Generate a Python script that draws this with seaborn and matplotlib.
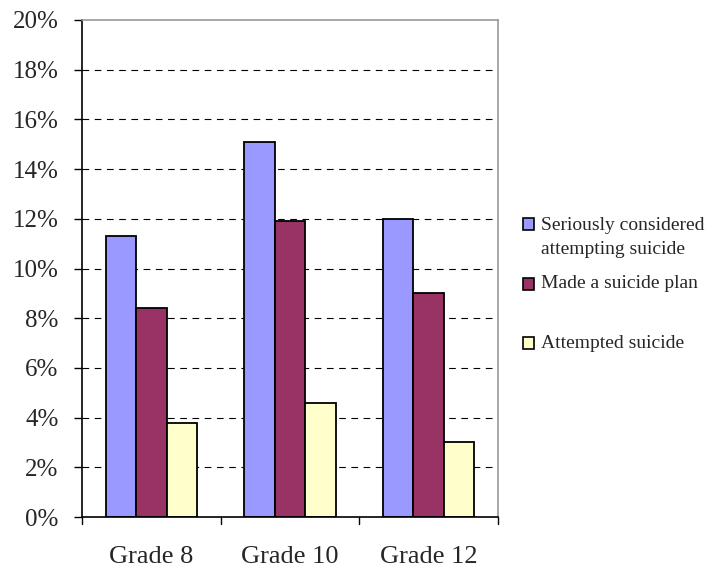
import matplotlib
matplotlib.use("Agg")
import matplotlib.pyplot as plt
from matplotlib.patches import Rectangle
import seaborn as sns
import pandas as pd

grades = ["Grade 8", "Grade 10", "Grade 12"]
series = ["Seriously considered\nattempting suicide", "Made a suicide plan", "Attempted suicide"]
considered = [11.3, 15.1, 12.0]
plan = [8.4, 11.9, 9.0]
attempted = [3.8, 4.6, 3.0]
colors = ["#9999FF", "#993366", "#FFFFCC"]
y_ticks = [0, 2, 4, 6, 8, 10, 12, 14, 16, 18, 20]

rows = []
for name, vals in zip(series, [considered, plan, attempted]):
    for g, v in zip(grades, vals):
        rows.append({"grade": g, "series": name, "pct": v})
df = pd.DataFrame(rows)

sns.set_style("white")
plt.rcParams["font.family"] = ["Liberation Serif", "DejaVu Serif"]

fig = plt.figure(figsize=(7.21, 5.73), dpi=100)
ax = fig.add_axes([82 / 721, 56 / 573, 416 / 721, 497 / 573])

sns.barplot(data=df, x="grade", y="pct", hue="series", hue_order=series,
            order=grades, palette=colors, width=0.66, gap=0,
            edgecolor="black", linewidth=1.3, saturation=1, ax=ax, legend=False)

ax.set_xlim(-0.5, 2.5)
ax.set_ylim(0, 20)
ax.set_yticks(y_ticks)
ax.set_yticklabels([f"{t}%" for t in y_ticks], fontsize=18)
ax.set_xticks([0, 1, 2])
ax.set_xticklabels(grades, fontsize=19)
ax.set_xlabel("")
ax.set_ylabel("")

for t in y_ticks[1:-1]:
    ax.axhline(t, color="black", linestyle=(0, (6, 5)), linewidth=0.8, zorder=0)

for side in ["top", "right"]:
    ax.spines[side].set_color("#999999")
    ax.spines[side].set_linewidth(1.2)
for side in ["left", "bottom"]:
    ax.spines[side].set_color("black")
    ax.spines[side].set_linewidth(1.2)

ax.tick_params(axis="y", direction="out", length=6, width=1, color="black", pad=11, left=True)
ax.tick_params(axis="x", length=0, pad=21)
# category boundary ticks below the axis
for xb in [-0.5, 0.5, 1.5, 2.5]:
    ax.plot([xb, xb], [0, -0.27], color="black", linewidth=1, clip_on=False)

# legend
legend_rows = [224, 284, 343]
for ypix, label, c in zip(legend_rows, series, colors):
    fig.patches.append(Rectangle((523 / 721, (573 - ypix - 6) / 573), 11 / 721, 12 / 573,
                                 facecolor=c, edgecolor="black", linewidth=1.2,
                                 transform=fig.transFigure))
    if "\n" in label:
        fig.text(541 / 721, (573 - ypix + 7) / 573, label, fontsize=14,
                 va="top", ha="left", linespacing=1.5)
    else:
        fig.text(541 / 721, (573 - ypix) / 573, label, fontsize=14,
                 va="center", ha="left")

fig.savefig("out.png", dpi=100)
